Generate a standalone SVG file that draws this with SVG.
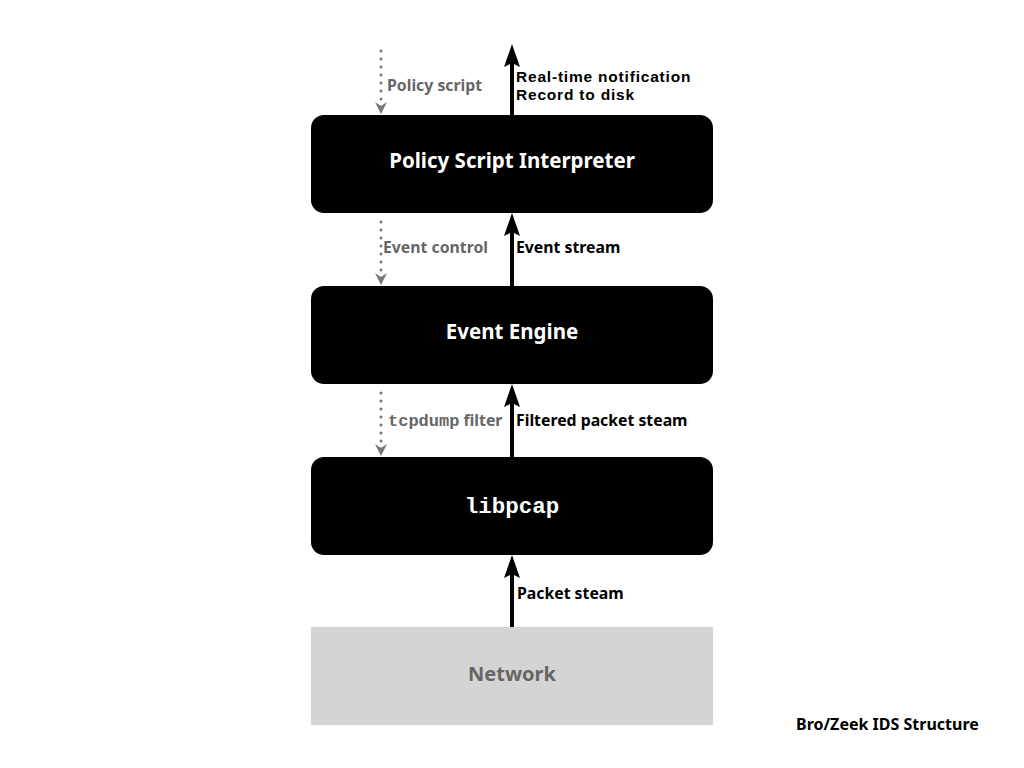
<svg xmlns="http://www.w3.org/2000/svg" width="1024" height="768" viewBox="0 0 1024 768">
<defs>
<marker id="ahg" viewBox="0 0 12 12" refX="6" refY="11" markerWidth="12" markerHeight="12" markerUnits="userSpaceOnUse" orient="0">
<path d="M0,0 L6,4 L12,0 L6,12 Z" fill="#777"/>
</marker>
<style>
.node{fill:#000}
.nt{font-family:"Noto Sans","Liberation Sans",sans-serif;font-weight:bold;font-size:20.5px;fill:#fff;text-anchor:middle}
.mono{font-family:"Liberation Mono","Courier New",monospace;font-weight:bold}
.lbl{font-family:"Noto Sans","Liberation Sans",sans-serif;font-weight:bold;font-size:15.8px;fill:#000}
.lbl2{font-family:"Liberation Sans",Arial,sans-serif;font-weight:bold;font-size:15.5px;letter-spacing:0.8px;fill:#000}
.glbl{font-family:"Noto Sans","Liberation Sans",sans-serif;font-weight:bold;font-size:15.8px;fill:#666}
.solid{stroke:#000;stroke-width:4;fill:none}
.head{fill:#000}
.dot{stroke:#777;stroke-width:3;fill:none;stroke-dasharray:0 8;stroke-linecap:round;marker-end:url(#ahg)}
</style>
</defs>
<rect width="1024" height="768" fill="#fff"/>
<g id="connectors">
<line class="solid" x1="512" y1="115" x2="512" y2="62"/>
<path class="head" d="M512,44 L520,67 L512,63 L504,67 Z"/>
<line class="solid" x1="512" y1="286" x2="512" y2="230"/>
<path class="head" d="M512,213 L520,236 L512,232 L504,236 Z"/>
<line class="solid" x1="512" y1="457" x2="512" y2="401"/>
<path class="head" d="M512,384 L520,407 L512,403 L504,407 Z"/>
<line class="solid" x1="512" y1="627" x2="512" y2="572"/>
<path class="head" d="M512,555 L520,578 L512,574 L504,578 Z"/>
<line class="dot" x1="381" y1="51" x2="381" y2="113"/>
<line class="dot" x1="381" y1="222" x2="381" y2="284"/>
<line class="dot" x1="381" y1="393" x2="381" y2="455"/>
<text class="glbl" x="387" y="91">Policy script</text>
<text class="lbl2" x="516" y="82">Real-time notification</text>
<text class="lbl2" x="516" y="100">Record to disk</text>
<text class="glbl" x="383" y="253">Event control</text>
<text class="lbl" x="516" y="253">Event stream</text>
<text class="glbl" x="388" y="426"><tspan class="mono" style="font-size:17px">tcpdump</tspan> filter</text>
<text class="lbl" x="516" y="426">Filtered packet steam</text>
<text class="lbl" x="517" y="599">Packet steam</text>
</g>
<g id="policy-script-interpreter">
<rect class="node" x="311" y="115" width="402" height="98" rx="13"/>
<text class="nt" x="512" y="168">Policy Script Interpreter</text>
</g>
<g id="event-engine">
<rect class="node" x="311" y="286" width="402" height="98" rx="13"/>
<text class="nt" x="512" y="339">Event Engine</text>
</g>
<g id="libpcap">
<rect class="node" x="311" y="457" width="402" height="98" rx="13"/>
<text class="nt mono" x="512" y="513" style="font-size:22.5px">libpcap</text>
</g>
<g id="network">
<rect x="311" y="627" width="402" height="98" fill="#d4d4d4"/>
<text class="nt" x="512" y="681" style="fill:#666;font-size:20px">Network</text>
</g>
<text id="title" class="lbl" x="796" y="730" style="font-size:16px">Bro/Zeek IDS Structure</text>
</svg>
